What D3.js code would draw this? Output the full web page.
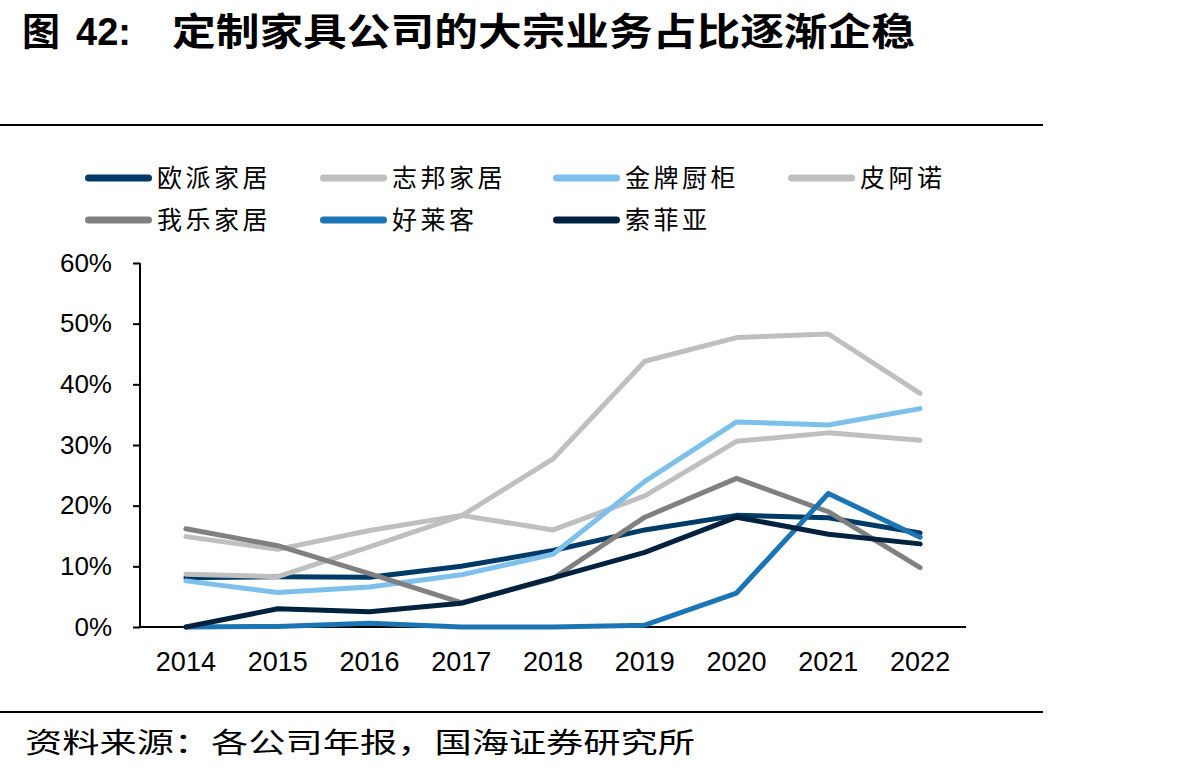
<!DOCTYPE html>
<html><head><meta charset="utf-8">
<script src="https://cdn.jsdelivr.net/npm/d3@7"></script>
<style>html,body{margin:0;padding:0;background:#fff;}svg{display:block;}</style>
</head><body>
<svg id="chart" width="1185" height="773"></svg>
<script>
const years = ["2014","2015","2016","2017","2018","2019","2020","2021","2022"];
const yTicks = [0, 0.1, 0.2, 0.3, 0.4, 0.5, 0.6];
const seriesNames = ["欧派家居","志邦家居","金牌厨柜","皮阿诺","我乐家居","好莱客","索菲亚"];
const oupai   = [8.1, 8.3, 8.2, 10.0, 12.6, 16.0, 18.4, 18.0, 15.5];
const zhibang = [14.9, 12.8, 15.9, 18.4, 16.0, 21.6, 30.6, 32.0, 30.8];
const jinpai  = [7.6, 5.7, 6.6, 8.6, 12.0, 24.0, 33.8, 33.3, 36.0];
const pianuo  = [8.7, 8.3, 13.2, 18.3, 27.7, 43.8, 47.7, 48.3, 38.5];
const wole    = [16.2, 13.4, 8.8, 4.0, 8.0, 18.1, 24.5, 19.0, 9.8];
const haolaike= [0.0, 0.1, 0.6, 0.0, 0.0, 0.3, 5.6, 22.0, 14.8];
const suofeiya= [0.0, 3.0, 2.5, 3.9, 8.1, 12.3, 18.1, 15.3, 13.7];
const seriesValues = [oupai, zhibang, jinpai, pianuo, wole, haolaike, suofeiya];
const colors = ["#003A66","#BFBFBF","#7DC0EC","#BFBFBF","#808080","#1B75B5","#00223F"];

const svg = d3.select("#chart");
const CJK = "'Noto Sans CJK SC','Noto Sans CJK JP',sans-serif";
const LAT = "'Liberation Sans',Arial,sans-serif";

// Title
svg.append("text").attr("x",22).attr("y",45).attr("font-family",CJK).attr("font-weight","bold")
  .attr("font-size",38).attr("fill","#000").text("图");
svg.append("text").attr("x",76).attr("y",45).attr("font-family",LAT).attr("font-weight","bold")
  .attr("font-size",38).attr("fill","#000").text("42:");
svg.append("text").attr("x",172).attr("y",45).attr("font-family",CJK).attr("font-weight","bold")
  .attr("font-size",38).attr("fill","#000").attr("textLength",743).attr("lengthAdjust","spacingAndGlyphs")
  .text("定制家具公司的大宗业务占比逐渐企稳");

// rules
svg.append("line").attr("x1",0).attr("x2",1043).attr("y1",125).attr("y2",125).attr("stroke","#000").attr("stroke-width",2);
svg.append("line").attr("x1",0).attr("x2",1043).attr("y1",712).attr("y2",712).attr("stroke","#000").attr("stroke-width",2);

// Footer
svg.append("text").attr("x",25).attr("y",753).attr("font-family",CJK).attr("font-size",28).attr("fill","#000")
  .attr("textLength",670).attr("lengthAdjust","spacingAndGlyphs").text("资料来源：各公司年报，国海证券研究所");

// Legend
const legX = [85, 320, 553, 788];
const legY = [178, 220];
seriesNames.forEach((name,i)=>{
  const x0 = legX[i%4], y0 = legY[Math.floor(i/4)];
  const g = svg.append("g");
  g.append("line").attr("x1",x0+3.5).attr("x2",x0+63.5).attr("y1",y0).attr("y2",y0)
    .attr("stroke",colors[i]).attr("stroke-width",7).attr("stroke-linecap","round");
  g.append("text").attr("x",x0+72).attr("y",y0+9).attr("font-family",CJK).attr("font-size",25)
    .attr("letter-spacing","3.5px").attr("fill","#000").text(name);
});

// Scales
const x = d3.scaleBand().domain(years).range([140,966]).padding(0);
const y = d3.scaleLinear().domain([0,0.6]).range([627,263]);

// Y axis
const yAxis = svg.append("g").attr("transform","translate(140,0)")
  .call(d3.axisLeft(y).tickValues(yTicks).tickSize(7).tickPadding(21).tickFormat(d3.format(".0%")));
yAxis.select(".domain").attr("stroke","#000").attr("stroke-width",2).attr("d","M0,263V627");
yAxis.selectAll(".tick line").attr("stroke","#000").attr("stroke-width",2);
yAxis.selectAll("text").attr("font-family",LAT).attr("font-size",26).attr("fill","#000");

// X axis
const xAxis = svg.append("g").attr("transform","translate(0,627)")
  .call(d3.axisBottom(x).tickSize(0).tickPadding(25));
xAxis.select(".domain").attr("stroke","#000").attr("stroke-width",2).attr("d","M140,0H966");
xAxis.selectAll("text").attr("font-family",LAT).attr("font-size",27).attr("fill","#000");

// Lines
const line = d3.line().x((d,i)=>x(years[i])+x.bandwidth()/2).y(d=>y(d/100));
seriesValues.forEach((vals,i)=>{
  svg.append("path").datum(vals).attr("d",line).attr("fill","none")
    .attr("stroke",colors[i]).attr("stroke-width",5).attr("stroke-linejoin","round").attr("stroke-linecap","round");
});
</script>
</body></html>
